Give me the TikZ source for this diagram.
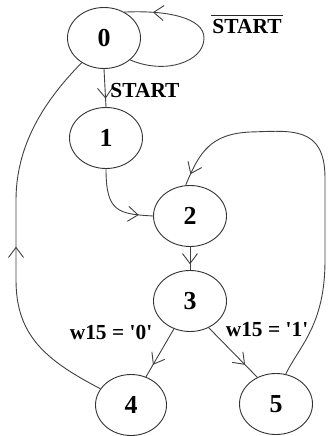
\documentclass[tikz,border=0pt]{standalone}
\usepackage{fontspec}
\setmainfont{Liberation Serif}
\usetikzlibrary{shapes.geometric,arrows.meta,decorations.markings}
\newcommand{\sq}{\textquotesingle}
\begin{document}
\begin{tikzpicture}[x=1bp,y=-1bp,
  line width=0.9bp,
  state/.style={draw=black!80, ellipse, inner sep=0pt,
    minimum width=73bp, minimum height=61bp,
    font=\fontsize{26}{26}\selectfont\bfseries},
  lbl/.style={font=\fontsize{21.5}{21.5}\selectfont\bfseries, inner sep=0pt},
  wire/.style={draw=black!75},
  barbat/.style={postaction={decorate},
    decoration={markings,
      mark=at position #1 with {\arrow{Straight Barb[length=10bp,width=15bp,line width=0.9bp]}}}}
]
\useasboundingbox (0,0) rectangle (327,436);

% states
\node[state] (n0) at (104,38) {0};
\node[state] (n1) at (106,138) {1};
\node[state] (n2) at (190,216) {2};
\node[state] (n3) at (190,301) {3};
\node[state, minimum width=71bp] (n4) at (131,405) {4};
\node[state] (n5) at (276,404) {5};

% self loop on 0
\draw[wire, barbat=0.84] (n0.-40) .. controls (165,75) and (204,62) .. (204,38)
  .. controls (204,18) and (168,10) .. (n0.52);
\node[lbl] (nstart) at (247,27) {START};
\draw[black!85, line width=1.2bp] ([yshift=3.5bp,xshift=-1bp]nstart.north west)
  -- ([yshift=3.5bp,xshift=1bp]nstart.north east);

% 0 -> 1
\draw[wire, barbat=0.78] (n0.south) -- (n1.north);
\node[lbl, anchor=west] (lstart) at (110,91) {START};

% 1 -> 2
\draw[wire, barbat=0.82] (n1.south) .. controls (106,212) and (118,214) .. (n2.west);

% 2 -> 3
\draw[wire, barbat=0.75] (n2.south) -- (n3.north);

% 3 -> 4 and 3 -> 5
\draw[wire, barbat=0.75] (n3.-120) -- (n4.62);
\draw[wire, barbat=0.75] (n3.-55) -- (n5.125);
\node[lbl] (l0) at (111,332) {w15 = \sq0\sq};
\node[lbl] (l1) at (267,330) {w15 = \sq1\sq};

% 5 -> 2
\draw[wire, barbat=0.97] (n5.72) .. controls (300,345) and (325,325) .. (325,260)
  -- (325,178) .. controls (325,125) and (290,131) .. (250,132)
  .. controls (212,134) and (200,150) .. (n2.98);

% 4 -> 0
\draw[wire, barbat=0.47] (n4.152) .. controls (45,360) and (16,335) .. (16,280)
  -- (16,200) .. controls (16,140) and (50,95) .. (n0.-132);
\end{tikzpicture}
\end{document}
